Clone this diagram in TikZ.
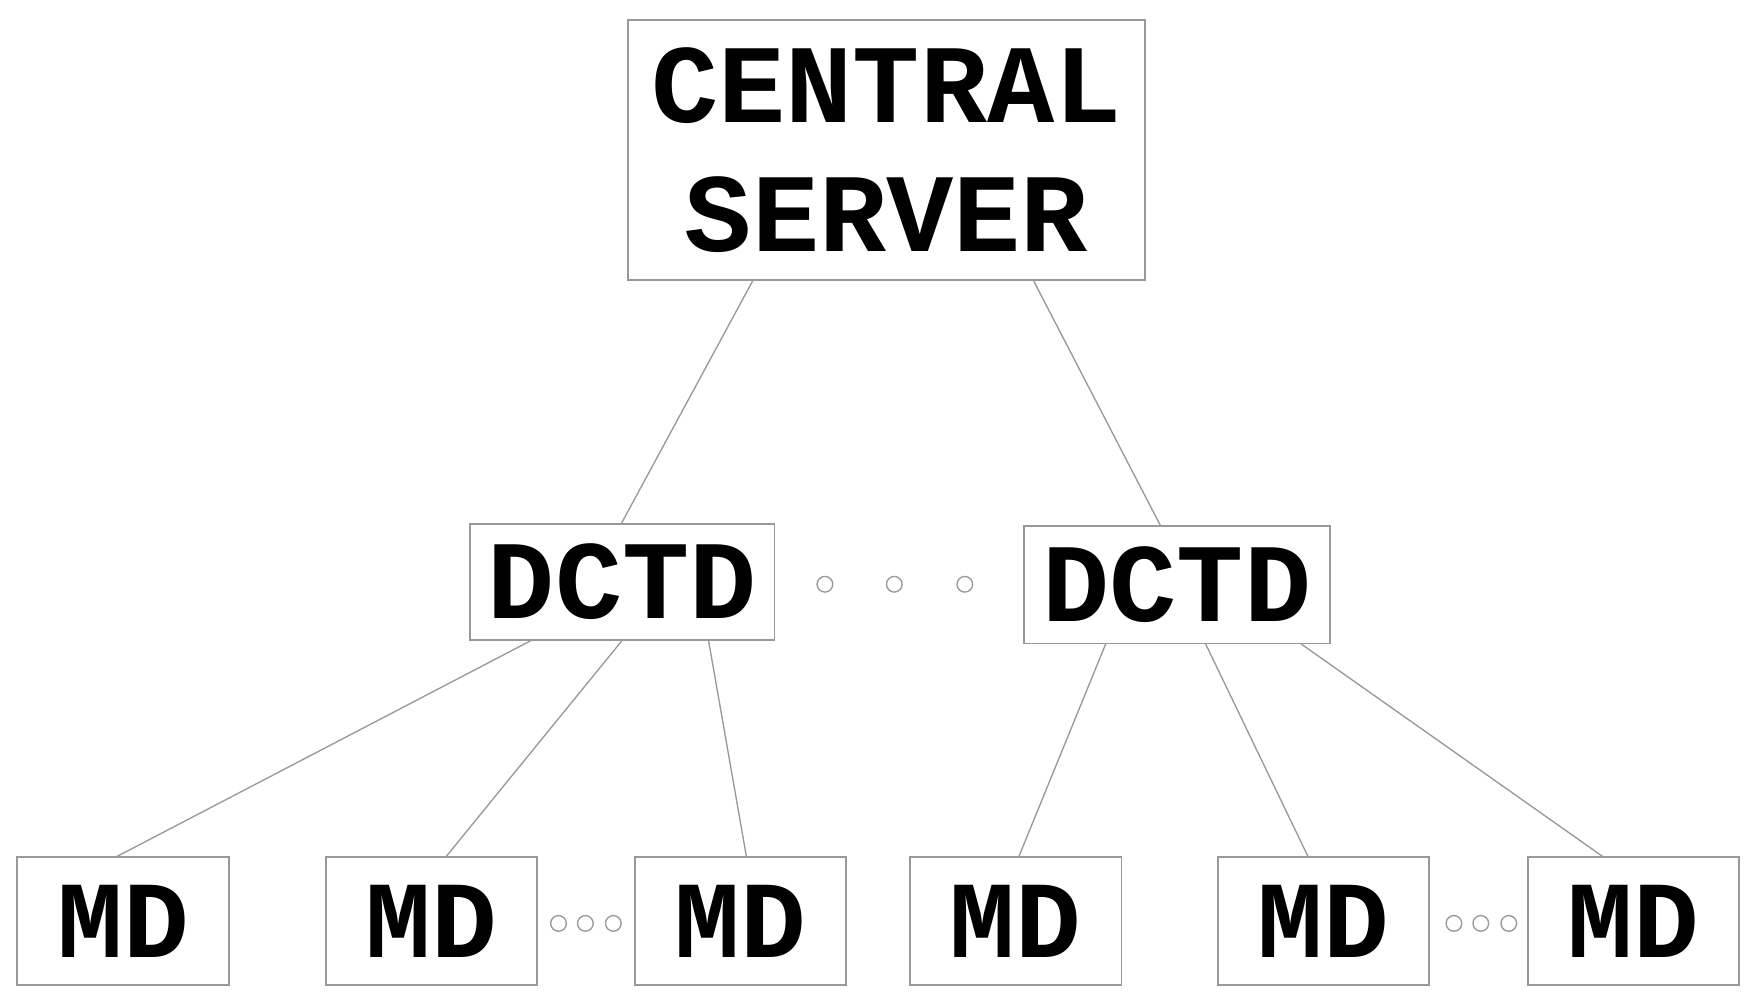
\documentclass[tikz,border=0pt]{standalone}
\usepackage{fontspec}
\setmonofont{Liberation Mono}
\begin{document}
\begin{tikzpicture}[x=1pt,y=-1pt,
  box/.style={draw=gray!80,line width=1.6pt,inner sep=0pt,font=\fontsize{100}{115}\selectfont\ttfamily\bfseries,align=center},
  ln/.style={draw=gray!80,line width=1.2pt},
  dot/.style={draw=gray!80,line width=1.2pt,fill=white}]
\useasboundingbox (0,0) rectangle (1568,897);
\node[box,minimum width=462pt,minimum height=232pt] (cs) at (792,134) {CENTRAL\\SERVER};
\node[box,minimum width=272pt,minimum height=104pt] (d1) at (556,520) {DCTD};
\node[box,minimum width=273pt,minimum height=105pt] (d2) at (1051.5,522.5) {DCTD};
\foreach \n/\x in {m1/110,m2/385.5,m3/661.5,m4/907.5,m5/1182.5,m6/1459.5}
  \node[box,minimum width=189pt,minimum height=114pt,font=\fontsize{98}{110}\selectfont\ttfamily\bfseries] (\n) at (\x,823) {MD};
\foreach \n/\x/\y in {a1/737/522,a2/799/522,a3/862/522,b1/499/825,b2/523/825,b3/548/825,c1/1299/825,c2/1323/825,c3/1348/825}
  \draw[dot] (\x,\y) circle (7) coordinate (\n);
\coordinate (p1) at (673,250); \coordinate (p2) at (923,250);
\coordinate (q1) at (555,468); \coordinate (q2) at (1037,470);
\coordinate (r1) at (475,572); \coordinate (r2) at (556,572); \coordinate (r3) at (633,572);
\coordinate (r4) at (988,575); \coordinate (r5) at (1077,575); \coordinate (r6) at (1162,575);
\coordinate (s1) at (103,766); \coordinate (s2) at (398,766); \coordinate (s3) at (667,766);
\coordinate (s4) at (910,766); \coordinate (s5) at (1169,766); \coordinate (s6) at (1433,766);
\draw[ln] (p1) -- (q1); \draw[ln] (p2) -- (q2);
\draw[ln] (r1) -- (s1); \draw[ln] (r2) -- (s2); \draw[ln] (r3) -- (s3);
\draw[ln] (r4) -- (s4); \draw[ln] (r5) -- (s5); \draw[ln] (r6) -- (s6);
\end{tikzpicture}
\end{document}
